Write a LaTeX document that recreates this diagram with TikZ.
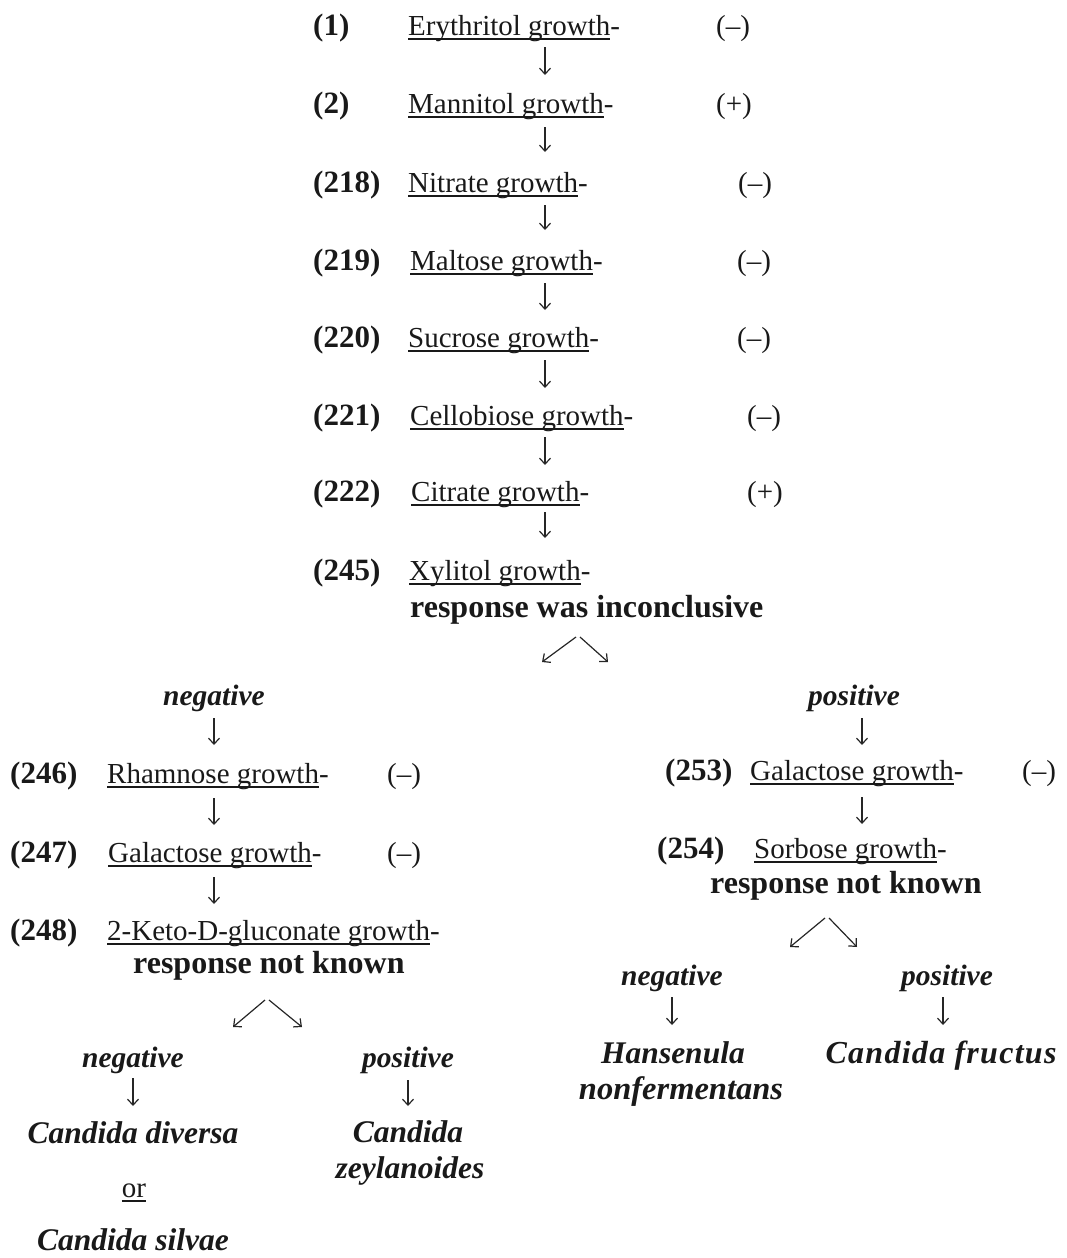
\documentclass[tikz,border=0pt]{standalone}
\usepackage{fontspec}
\setmainfont{Liberation Serif}
\usetikzlibrary{arrows.meta}
% underline that cuts through descenders, drawn just below the baseline
\newcommand\growline[1]{\setbox0=\hbox{#1}\rlap{\rule[-4.5pt]{\wd0}{1.1pt}}\box0}
\begin{document}
\begin{tikzpicture}[x=1pt,y=-1pt,
  txt/.style={anchor=base west, inner sep=0pt, text=black!90, font=\fontsize{29}{33}\selectfont},
  num/.style={anchor=base west, inner sep=0pt, text=black!90, font=\fontsize{31}{35}\selectfont\bfseries},
  resp/.style={anchor=base west, inner sep=0pt, text=black!90, font=\fontsize{32}{36}\selectfont\bfseries},
  lab/.style={anchor=base, inner sep=0pt, text=black!90, font=\fontsize{29.5}{33}\selectfont\bfseries\itshape},
  taxon/.style={anchor=base, inner sep=0pt, text=black!90, align=center, font=\fontsize{31.5}{36}\selectfont\bfseries\itshape},
  dn/.style={draw=black!85, line width=1.2pt, -{Straight Barb[length=6pt,width=11pt,line width=1.2pt]}}
]
\useasboundingbox (0,0) rectangle (1066,1258);

% ---- main sequence ----
\node[num] (n1) at (313,35) {(1)};
\node[txt] (t1) at (408,35) {\growline{Erythritol growth}-};
\node[txt] (s1) at (716,35) {(–)};
\node[num] (n2) at (313,113) {(2)};
\node[txt] (t2) at (408,113) {\growline{Mannitol growth}-};
\node[txt] (s2) at (716,113) {(+)};
\node[num] (n3) at (313,192) {(218)};
\node[txt] (t3) at (408,192) {\growline{Nitrate growth}-};
\node[txt] (s3) at (738,192) {(–)};
\node[num] (n4) at (313,270) {(219)};
\node[txt] (t4) at (410,270) {\growline{Maltose growth}-};
\node[txt] (s4) at (737,270) {(–)};
\node[num] (n5) at (313,347) {(220)};
\node[txt] (t5) at (408,347) {\growline{Sucrose growth}-};
\node[txt] (s5) at (737,347) {(–)};
\node[num] (n6) at (313,425) {(221)};
\node[txt] (t6) at (410,425) {\growline{Cellobiose growth}-};
\node[txt] (s6) at (747,425) {(–)};
\node[num] (n7) at (313,501) {(222)};
\node[txt] (t7) at (411,501) {\growline{Citrate growth}-};
\node[txt] (s7) at (747,501) {(+)};
\node[num] (n8) at (313,580) {(245)};
\node[txt] (t8) at (409,580) {\growline{Xylitol growth}-};
\node[resp] (r8) at (410,617) {response was inconclusive};

\foreach \a/\b [count=\i] in {47/75,127/152,205/230,283/310,360/388,437/465,512/538}{
  \coordinate (m\i a) at (545,\a);
  \coordinate (m\i b) at (545,\b);
  \draw[dn] (m\i a) -- (m\i b);
}
\coordinate (sp0a) at (576,637);
\coordinate (sp0b) at (580,637);
\coordinate (sp0l) at (542,662);
\coordinate (sp0r) at (608,662);
\draw[dn] (sp0a) -- (sp0l);
\draw[dn] (sp0b) -- (sp0r);

% ---- negative branch ----
\node[lab] (ln) at (214,705) {negative};
\node[num] (n9) at (10,783) {(246)};
\node[txt] (t9) at (107,783) {\growline{Rhamnose growth}-};
\node[txt] (s9) at (387,783) {(–)};
\node[num] (n10) at (10,862) {(247)};
\node[txt] (t10) at (108,862) {\growline{Galactose growth}-};
\node[txt] (s10) at (387,862) {(–)};
\node[num] (n11) at (10,940) {(248)};
\node[txt] (t11) at (107,940) {\growline{2-Keto-D-gluconate growth}-};
\node[resp] (r11) at (133,973) {response not known};

\foreach \a/\b [count=\i] in {718/745,798/825,877/904}{
  \coordinate (l\i a) at (214,\a);
  \coordinate (l\i b) at (214,\b);
  \draw[dn] (l\i a) -- (l\i b);
}
\coordinate (sp1a) at (265,1000);
\coordinate (sp1b) at (269,1000);
\coordinate (sp1l) at (233,1027);
\coordinate (sp1r) at (302,1027);
\draw[dn] (sp1a) -- (sp1l);
\draw[dn] (sp1b) -- (sp1r);

\node[lab] (lnn) at (133,1067) {negative};
\coordinate (la) at (133,1078);
\coordinate (lb) at (133,1106);
\draw[dn] (la) -- (lb);
\node[taxon] (cd) at (133,1143) {Candida diversa};
\node[txt, anchor=base] (or) at (134,1197) {\growline{or}};
\node[taxon] (cs) at (133,1250) {Candida silvae};

\node[lab] (lnp) at (408,1067) {positive};
\coordinate (lpa) at (408,1080);
\coordinate (lpb) at (408,1106);
\draw[dn] (lpa) -- (lpb);
\node[taxon] (cz1) at (408,1142) {Candida};
\node[taxon] (cz2) at (410,1178) {zeylanoides};

% ---- positive branch ----
\node[lab] (rp) at (854,705) {positive};
\node[num] (n12) at (665,780) {(253)};
\node[txt] (t12) at (750,780) {\growline{Galactose growth}-};
\node[txt] (s12) at (1022,780) {(–)};
\node[num] (n13) at (657,858) {(254)};
\node[txt] (t13) at (754,858) {\growline{Sorbose growth}-};
\node[resp] (r13) at (710,893) {response not known};

\foreach \a/\b [count=\i] in {718/745,797/824}{
  \coordinate (r\i a) at (862,\a);
  \coordinate (r\i b) at (862,\b);
  \draw[dn] (r\i a) -- (r\i b);
}
\coordinate (sp2a) at (825,918);
\coordinate (sp2b) at (829,918);
\coordinate (sp2l) at (790,947);
\coordinate (sp2r) at (857,947);
\draw[dn] (sp2a) -- (sp2l);
\draw[dn] (sp2b) -- (sp2r);

\node[lab] (rpn) at (672,985) {negative};
\coordinate (rna) at (672,997);
\coordinate (rnb) at (672,1025);
\draw[dn] (rna) -- (rnb);
\node[taxon] (hn1) at (673,1063) {Hansenula};
\node[taxon, font=\fontsize{32.5}{36}\selectfont\bfseries\itshape] (hn2) at (681,1099) {nonfermentans};

\node[lab] (rpp) at (947,985) {positive};
\coordinate (rpa) at (943,997);
\coordinate (rpb) at (943,1025);
\draw[dn] (rpa) -- (rpb);
\node[taxon, font=\fontsize{32}{36}\selectfont\bfseries\itshape\addfontfeature{LetterSpace=4}] (cf) at (941,1063) {Candida fructus};
\end{tikzpicture}
\end{document}
